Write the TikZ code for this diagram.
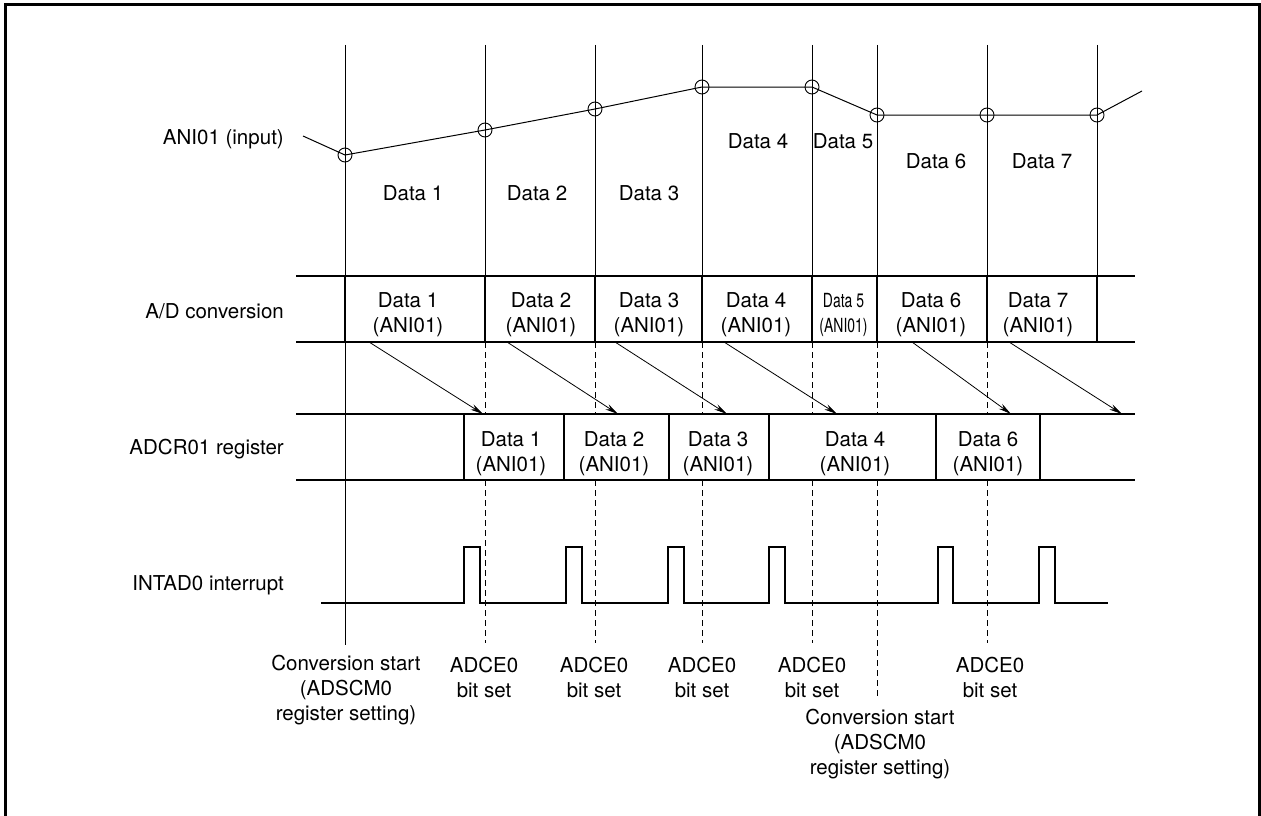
\documentclass[tikz,border=0pt]{standalone}
\usepackage{fontspec}
\setmainfont{TeX Gyre Heros}
\usepackage{graphicx}
\usetikzlibrary{arrows.meta}
\begin{document}
\begin{tikzpicture}[x=1pt,y=-1pt,
  thinln/.style={line width=1pt},
  thickln/.style={line width=2pt},
  dashln/.style={line width=1pt, dash pattern=on 6pt off 4pt},
  lbl/.style={font=\fontsize{20.5}{25}\selectfont, inner sep=0pt, align=center},
  rlbl/.style={lbl, anchor=east},
  xfer/.style={line width=0.8pt, -{Stealth[length=13pt,width=6pt]}},
  smp/.style={circle, draw, line width=0.9pt, minimum size=14pt, inner sep=0pt},
  wave/.style={line width=2pt, line join=miter}
]
\useasboundingbox (0,0) rectangle (1261,816);

% outer frame
\coordinate (fbl) at (5.5,817);
\coordinate (ftl) at (5.5,4.5);
\coordinate (ftr) at (1259.5,4.5);
\coordinate (fbr) at (1259.5,817);
\draw[line width=2.5pt] (fbl) -- (ftl) -- (ftr) -- (fbr);

% row labels
\node[rlbl] (lab1) at (284,139) {ANI01 (input)};
\node[rlbl] (lab2) at (284,311) {A/D conversion};
\node[rlbl] (lab3) at (284,449) {ADCR01 register};
\node[rlbl] (lab4) at (284,585) {INTAD0 interrupt};

% vertical timing lines (thin part, top)
\foreach \x [count=\i] in {345,485,595,702,812,877,987,1097} {
  \coordinate (vt\i) at (\x,45);
  \coordinate (va\i) at (\x,276);
  \coordinate (vb\i) at (\x,342);
  \draw[thinln] (vt\i) -- (va\i);
  \draw[thickln] (va\i) -- (vb\i);
}
% first line continues to the bottom
\coordinate (ve1) at (345,645);
\draw[thinln] (vb1) -- (ve1);
% dashed continuation lines
\foreach \x/\e [count=\i] in {485/643,595/643,702/643,812/643,877/697,987/643} {
  \coordinate (da\i) at (\x,342);
  \coordinate (db\i) at (\x,414);
  \coordinate (dc\i) at (\x,480);
  \coordinate (dd\i) at (\x,\e);
  \draw[dashln] (da\i) -- (db\i);
  \draw[dashln] (dc\i) -- (dd\i);
}

% input signal with sampling points
\coordinate (sin) at (303,136);
\coordinate (sout) at (1142,91);
\node[smp] (s1) at (345,155) {};
\node[smp] (s2) at (485,130) {};
\node[smp] (s3) at (595,109) {};
\node[smp] (s4) at (702,87) {};
\node[smp] (s5) at (812,87) {};
\node[smp] (s6) at (877,115) {};
\node[smp] (s7) at (987,115) {};
\node[smp] (s8) at (1097,115) {};
\draw[thinln] (sin) -- (s1.center) -- (s2.center) -- (s3.center) -- (s4.center)
  -- (s5.center) -- (s6.center) -- (s7.center) -- (s8.center) -- (sout);

\node[lbl] (in1) at (413,193) {Data 1};
\node[lbl] (in2) at (537,193) {Data 2};
\node[lbl] (in3) at (649,193) {Data 3};
\node[lbl] (in4) at (758,141) {Data 4};
\node[lbl] (in5) at (843,141) {Data 5};
\node[lbl] (in6) at (936,161) {Data 6};
\node[lbl] (in7) at (1042,161) {Data 7};

% A/D conversion row
\coordinate (adtl) at (296,276);
\coordinate (adtr) at (1135,276);
\coordinate (adbl) at (296,342);
\coordinate (adbr) at (1135,342);
\draw[thickln] (adtl) -- (adtr);
\draw[thickln] (adbl) -- (adbr);
\node[lbl] (ad1) at (408,314.5) {Data 1\\(ANI01)};
\node[lbl] (ad2) at (541,314.5) {Data 2\\(ANI01)};
\node[lbl] (ad3) at (649,314.5) {Data 3\\(ANI01)};
\node[lbl] (ad4) at (756,314.5) {Data 4\\(ANI01)};
\node[lbl] (ad5) at (843.5,314.5) {\scalebox{0.68}[0.95]{Data 5}\\\scalebox{0.68}[0.95]{(ANI01)}};
\node[lbl] (ad6) at (931,314.5) {Data 6\\(ANI01)};
\node[lbl] (ad7) at (1038,314.5) {Data 7\\(ANI01)};

% ADCR01 register row
\coordinate (rgtl) at (296,414);
\coordinate (rgtr) at (1135,414);
\coordinate (rgbl) at (296,480);
\coordinate (rgbr) at (1135,480);
\draw[thickln] (rgtl) -- (rgtr);
\draw[thickln] (rgbl) -- (rgbr);
\foreach \x [count=\i] in {464,564,669,769,936,1040} {
  \coordinate (ra\i) at (\x,414);
  \coordinate (rb\i) at (\x,480);
  \draw[thickln] (ra\i) -- (rb\i);
}
\node[lbl] (rg1) at (511,453.5) {Data 1\\(ANI01)};
\node[lbl] (rg2) at (614,453.5) {Data 2\\(ANI01)};
\node[lbl] (rg3) at (718,453.5) {Data 3\\(ANI01)};
\node[lbl] (rg4) at (855,453.5) {Data 4\\(ANI01)};
\node[lbl] (rg6) at (988,453.5) {Data 6\\(ANI01)};

% transfer arrows
\foreach \a/\b [count=\i] in {369/483,507/618,615/727,724/837,912/1011,1009/1122} {
  \coordinate (xa\i) at (\a,342);
  \coordinate (xb\i) at (\b,414);
  \draw[xfer] (xa\i) -- (xb\i);
}

% INTAD0 interrupt waveform
\coordinate (w0) at (321,603);
\coordinate (w9) at (1108,603);
\draw[wave] (w0)
  -- (464,603) -- (464,547) -- (480,547) -- (480,603)
  -- (566,603) -- (566,547) -- (582,547) -- (582,603)
  -- (668,603) -- (668,547) -- (684,547) -- (684,603)
  -- (769,603) -- (769,547) -- (785,547) -- (785,603)
  -- (938,603) -- (938,547) -- (953,547) -- (953,603)
  -- (1039,603) -- (1039,547) -- (1055,547) -- (1055,603)
  -- (w9);

% bottom labels
\node[lbl] (cs1) at (346,690) {Conversion start\\(ADSCM0\\register setting)};
\node[lbl] (bs1) at (484,677) {ADCE0\\bit set};
\node[lbl] (bs2) at (594,677) {ADCE0\\bit set};
\node[lbl] (bs3) at (702,677) {ADCE0\\bit set};
\node[lbl] (bs4) at (812,677) {ADCE0\\bit set};
\node[lbl] (bs5) at (990,677) {ADCE0\\bit set};
\node[lbl] (cs2) at (880,744) {Conversion start\\(ADSCM0\\register setting)};
\end{tikzpicture}
\end{document}
